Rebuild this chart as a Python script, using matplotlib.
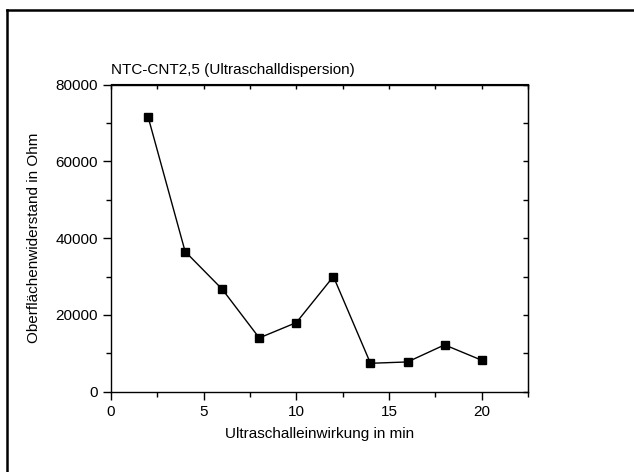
import matplotlib
matplotlib.use("Agg")
import matplotlib.pyplot as plt
from matplotlib.ticker import MultipleLocator
from matplotlib.lines import Line2D

plt.rcParams['font.family'] = ['Liberation Sans', 'DejaVu Sans']

time_min = [2, 4, 6, 8, 10, 12, 14, 16, 18, 20]
resistance = [71600, 36500, 26700, 14000, 18000, 30000, 7400, 7750, 12200, 8200]

title = "NTC-CNT2,5 (Ultraschalldispersion)"
xlabel = "Ultraschalleinwirkung in min"
ylabel = "Oberflächenwiderstand in Ohm"

W, H = 634, 472
fs = 11
fig = plt.figure(figsize=(W / 100, H / 100), dpi=100)
ax = fig.add_axes([111 / W, 1 - 391.7 / H, (528 - 111) / W, (391.7 - 84.5) / H])

ax.plot(time_min, resistance, color='black', lw=1.0, marker='s', ms=5.3,
        markerfacecolor='black', markeredgecolor='black')

ax.set_xlim(0, 22.5)
ax.set_ylim(0, 80000)
ax.xaxis.set_major_locator(MultipleLocator(5))
ax.xaxis.set_minor_locator(MultipleLocator(2.5))
ax.yaxis.set_major_locator(MultipleLocator(20000))
ax.yaxis.set_minor_locator(MultipleLocator(10000))

for s in ax.spines.values():
    s.set_linewidth(1.0)

ax.tick_params(axis='both', which='both', direction='out', labelsize=fs,
               top=False, right=False)
ax.tick_params(which='major', length=6, width=1.0)
ax.tick_params(which='minor', length=3.5, width=1.0)

# top and right ticks (inward, no labels)
axt = ax.secondary_xaxis('top')
axt.xaxis.set_major_locator(MultipleLocator(2.5))
axt.tick_params(direction='in', length=3.5, width=1.0, labeltop=False)
axr = ax.secondary_yaxis('right')
axr.yaxis.set_major_locator(MultipleLocator(10000))
axr.tick_params(direction='in', length=3.5, width=1.0, labelright=False)

ax.set_xlabel(xlabel, fontsize=fs, labelpad=6)
ax.set_ylabel(ylabel, fontsize=fs, labelpad=10)

fig.text(111 / W, 1 - 74 / H, title, fontsize=fs, ha='left', va='baseline')

# outer frame lines (top and left)
fig.add_artist(Line2D([6.5 / W, 1], [1 - 10 / H, 1 - 10 / H], color='black', lw=1.8,
                      transform=fig.transFigure))
fig.add_artist(Line2D([7 / W, 7 / W], [0, 1 - 10 / H], color='black', lw=1.8,
                      transform=fig.transFigure))

fig.savefig("out.png", dpi=100)
